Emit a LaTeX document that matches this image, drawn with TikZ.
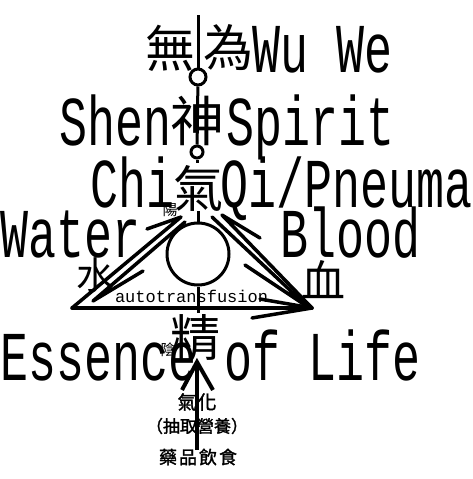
\documentclass[tikz,border=0pt]{standalone}
\usepackage{graphicx}
\usepackage{fontspec}
\setmainfont{Liberation Serif}
\newfontfamily\mono{Liberation Mono}
\newfontfamily\cjk{Noto Sans CJK TC}
\newfontfamily\cjkb[FakeBold=1.5]{Noto Sans CJK TC}
\newcommand\tallt[1]{\scalebox{1}[1.5]{#1}}
\tikzset{
  bigl/.style={font=\mono\fontsize{46.67}{50}\selectfont, inner sep=0pt, outer sep=0pt, anchor=base west},
  smalll/.style={font=\mono\fontsize{17}{18}\selectfont, inner sep=0pt, outer sep=0pt, anchor=base west},
  hanzi/.style={inner sep=0pt, outer sep=0pt, anchor=center},
  ring/.style={circle, draw, line width=3pt, fill=white, inner sep=0pt},
  vline/.style={line width=3pt},
  tri/.style={line width=3.5pt, line cap=round, line join=round},
  upar/.style={line width=4pt, line join=miter},
}
\begin{document}
\begin{tikzpicture}[x=1pt,y=-1pt]
\useasboundingbox[fill=white] (0,0) rectangle (473,479);

% vertical axis with circles
\coordinate (top) at (198,15);
\node[ring, minimum size=16pt] (c1) at (198,77) {};
\node[ring, minimum size=12pt] (c2) at (197,152) {};
\coordinate (s1) at (197,163);
\coordinate (s2) at (198,211);
\node[ring, minimum size=62pt, fill=none] (bc) at (198,254) {};
\coordinate (s3) at (198,313);
\draw[vline] (top) -- (c1);
\draw[vline] (c1) -- (c2);
\draw[vline] (c2) -- (s1);
\draw[vline] (s2) -- (bc);
\draw[vline] (bc) -- (s3);

% triangle
\coordinate (bl) at (72,308);
\coordinate (br) at (312,308);
\coordinate (apl) at (181,217);
\coordinate (apl2) at (185,222);
\coordinate (bl2) at (93,301);
\coordinate (apr) at (212,217);
\coordinate (apr2) at (222,215);
\coordinate (br2) at (308,307);
\coordinate (fl1) at (147,229);
\coordinate (fl2) at (143,271);
\coordinate (fr1) at (260,238);
\coordinate (fr2) at (245,265);
\coordinate (fb1) at (252,318);
\coordinate (fb2) at (260,299);
\draw[tri] (bl) -- (apl) -- (fl1);
\draw[tri] (apl2) -- (bl2) -- (fl2);
\draw[tri] (br) -- (apr2) -- (fr1);
\draw[tri] (apr) -- (br2) -- (fr2);
\draw[tri] (bl) -- (br);
\draw[tri] (fb1) -- (br) -- (fb2);

% Latin texts
\node[bigl] (wuwe) at (252,72) {\tallt{Wu We}};
\node[bigl] (shen) at (59,145) {\tallt{Shen}};
\node[bigl] (spirit) at (226,145) {\tallt{Spirit}};
\node[bigl] (chi) at (90,207) {\tallt{Chi}};
\node[bigl] (qi) at (220,207) {\tallt{Qi/Pneuma}};
\node[bigl] (water) at (0,257) {\tallt{Water}};
\node[bigl] (blood) at (280,257) {\tallt{Blood}};
\node[bigl] (essence) at (0,380) {\tallt{Essence of Life}};
\node[smalll] (auto) at (115,302) {autotransfusion};

% Chinese characters
\node[hanzi, font=\cjk\fontsize{50}{50}\selectfont] (wu) at (170,48) {無};
\node[hanzi, font=\cjk\fontsize{50}{50}\selectfont] (wei) at (228,48) {為};
\node[hanzi, font=\cjk\fontsize{54}{54}\selectfont] (shenz) at (197,121) {神};
\node[hanzi, font=\cjk\fontsize{50}{50}\selectfont] (qiz) at (198,188) {氣};
\node[hanzi, font=\cjk\fontsize{15}{15}\selectfont] (yang) at (170,210) {陽};
\node[hanzi, font=\cjk\fontsize{38}{38}\selectfont] (shui) at (95,275) {水};
\node[hanzi, font=\cjk\fontsize{44}{44}\selectfont] (xue) at (323,280) {血};
\node[hanzi, font=\cjk\fontsize{50}{50}\selectfont] (jing) at (195,338) {精};
\node[hanzi, font=\cjk\fontsize{15}{15}\selectfont] (yin) at (168,350) {陰};
\node[hanzi, font=\cjkb\fontsize{19}{19}\selectfont] (qihua) at (197,402) {氣\hspace{1pt}化};
\node[hanzi, font=\cjkb\fontsize{17}{17}\selectfont] (chouqu) at (197,426) {（抽取營養）};
\node[hanzi, font=\cjkb\fontsize{18}{18}\selectfont] (yaopin) at (198,457) {藥\hspace{2pt}品\hspace{2pt}飲\hspace{2pt}食};

% bottom arrow
\coordinate (tail) at (197,450);
\coordinate (tip) at (197,362);
\coordinate (af1) at (182,390);
\coordinate (af2) at (213,390);
\draw[upar] (tail) -- (tip);
\draw[upar] (af1) -- (tip) -- (af2);
\end{tikzpicture}
\end{document}
